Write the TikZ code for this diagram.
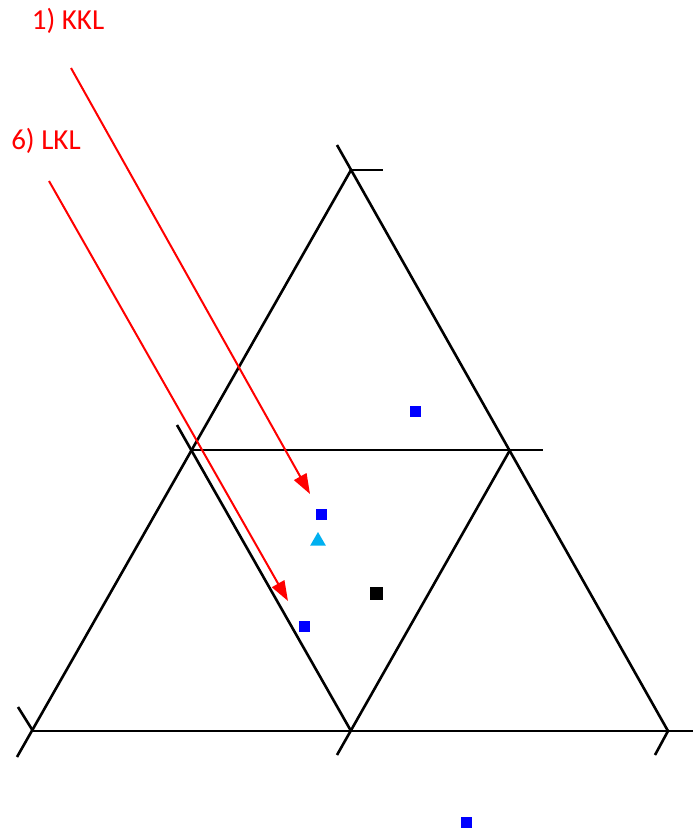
\documentclass[tikz,border=0pt]{standalone}
\usepackage{fontspec}
\setmainfont{Carlito}
\usepackage{xcolor}
\definecolor{markblue}{RGB}{0,0,255}
\definecolor{markcyan}{RGB}{0,176,240}
\definecolor{markred}{RGB}{255,0,0}
\usetikzlibrary{positioning,arrows.meta,shapes.geometric}
\tikzset{
  axisline/.style ={draw=black,line width=1.3pt},
  pathline/.style ={-{Triangle[length=10pt,width=7pt]},draw=markred,line width=1pt},
  pathlabel/.style={text=markred,font=\fontsize{14.5}{17}\selectfont,inner sep=0pt},
  bluept/.style   ={rectangle,fill=markblue,minimum size=5.5pt,inner sep=0pt},
  blackpt/.style  ={rectangle,fill=black,minimum size=6.5pt,inner sep=0pt},
  cyanpt/.style   ={regular polygon,regular polygon sides=3,fill=markcyan,minimum size=9pt,inner sep=0pt},
}

\begin{document}
\begin{tikzpicture}[x=0.5pt,y=-0.5pt]
  \useasboundingbox (0,0) rectangle (693,832);
  % triangle corners and midpoints
  \coordinate (top) at (351,170);
  \coordinate (bl) at (33,731);
  \coordinate (br) at (668,731);
  \coordinate (ml) at (192,450);
  \coordinate (mr) at (510,450);
  \coordinate (mb) at (351,731);
  % tick ends
  \coordinate (ttop) at (337,145);
  \coordinate (ttopr) at (383,170);
  \coordinate (tbl) at (17,757);
  \coordinate (tblu) at (18,707);
  \coordinate (tbr) at (693,731);
  \coordinate (tbrd) at (655,755);
  \coordinate (tml) at (177,425);
  \coordinate (tmr) at (543,450);
  \coordinate (tmb) at (337,755);
  \draw[axisline] (ttop) -- (br);
  \draw[axisline] (top) -- (tbl);
  \draw[axisline] (bl) -- (tbr);
  \draw[axisline] (ml) -- (tmr);
  \draw[axisline] (top) -- (ttopr);
  \draw[axisline] (tml) -- (mb);
  \draw[axisline] (mr) -- (tmb);
  \draw[axisline] (tblu) -- (bl);
  \draw[axisline] (br) -- (tbrd);
  % data points
  \node[bluept] (p1) at (415.5,411.5) {};
  \node[bluept] (p2) at (321.5,514.5) {};
  \node[bluept] (p3) at (304.5,626.5) {};
  \node[bluept] (p4) at (466.5,822.5) {};
  \node[cyanpt] (q1) at (318,541) {};
  \node[blackpt] (c1) at (376.5,593.5) {};
  % paths
  \node[pathlabel] (kkl) at (68,21) {1) KKL};
  \node[pathlabel] (lkl) at (46,141) {6) LKL};
  \coordinate (kkls) at (71,68);
  \coordinate (kkle) at (310,494);
  \coordinate (lkls) at (49,181);
  \coordinate (lkle) at (288,601);
  \foreach \x/\y in {kkls/kkle,lkls/lkle}{\draw[pathline] (\x) -- (\y);}
\end{tikzpicture}
\end{document}
